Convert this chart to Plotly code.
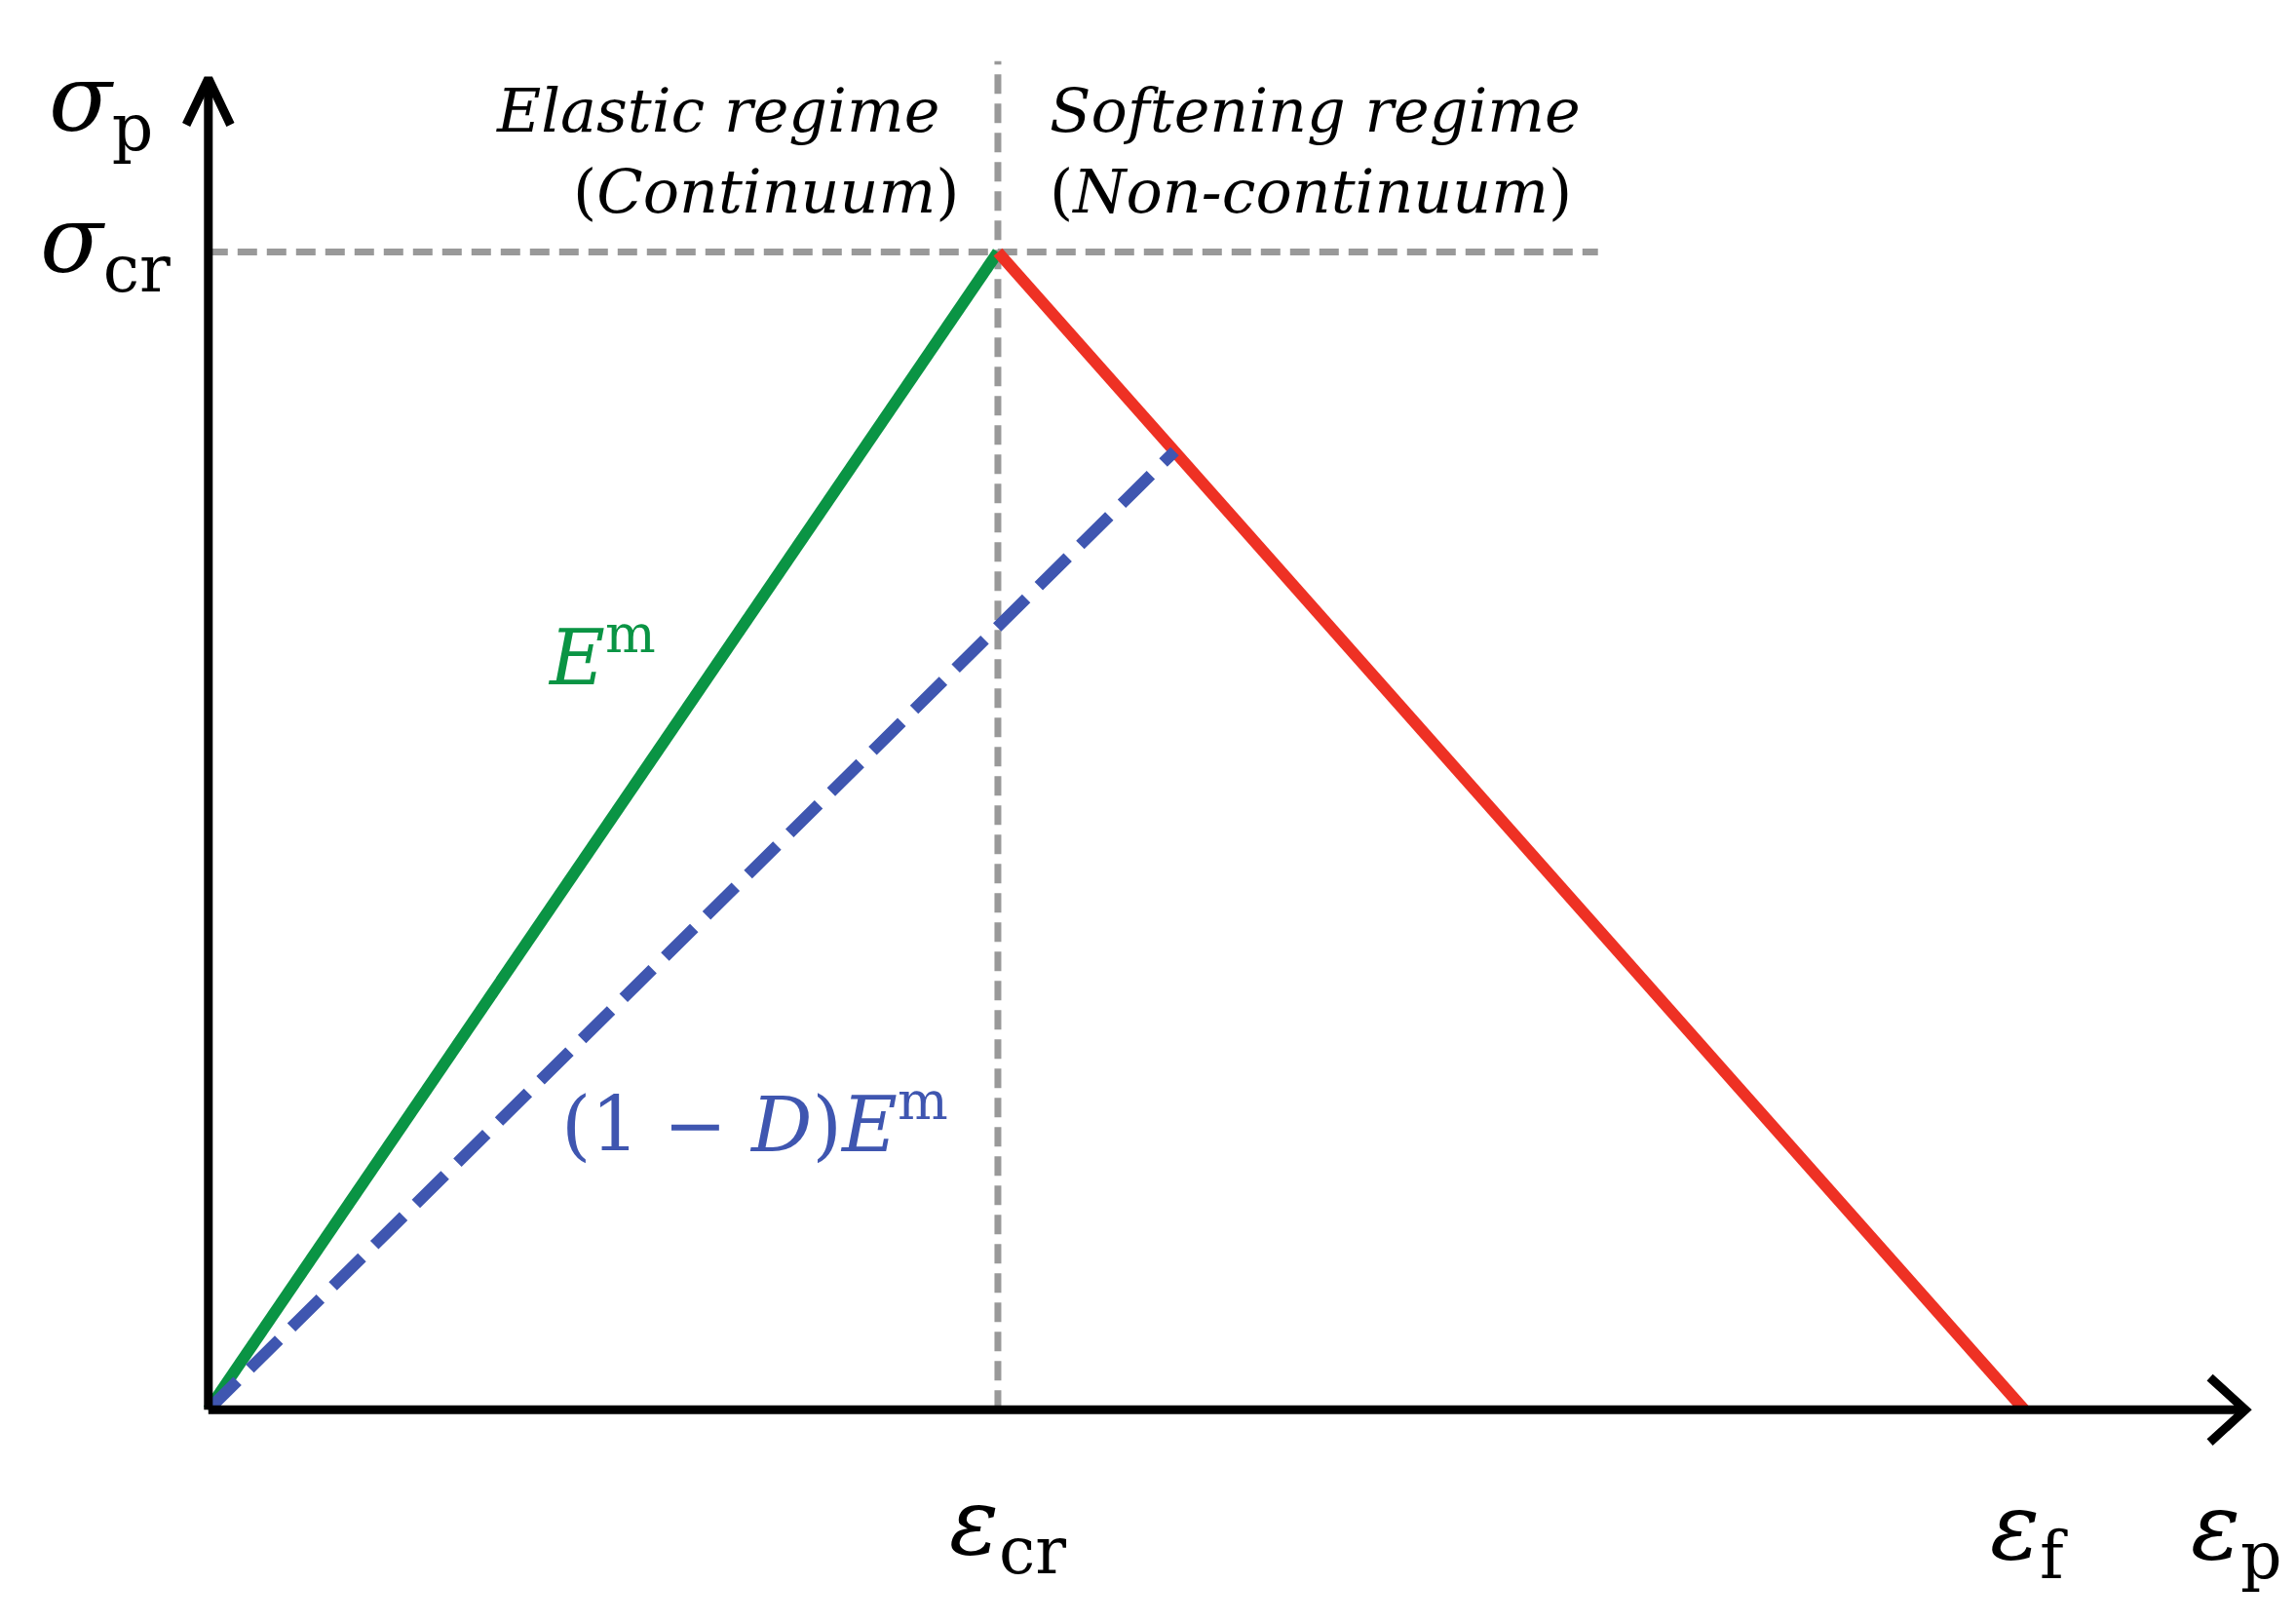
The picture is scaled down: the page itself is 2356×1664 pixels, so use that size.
import plotly.graph_objects as go

W, H = 2356, 1664
eps_cr, eps_f, sig_cr = 1.0, 2.30, 1.0
elastic_x = [0, eps_cr]; elastic_y = [0, sig_cr]
soft_x = [eps_cr, eps_f]; soft_y = [sig_cr, 0]
damaged_x = [0, 1.224]; damaged_y = [0, 0.828]

xr = [-0.254, 2.654]
yr = [-0.190, 1.211]

def px(x, y):  # pixel -> paper
    return x / W, 1 - y / H

fig = go.Figure()
gray = "#999999"
fig.add_trace(go.Scatter(x=[0, 1.76], y=[sig_cr, sig_cr], mode="lines", line=dict(color=gray, width=7, dash="20px,10px")))
fig.add_trace(go.Scatter(x=[eps_cr, eps_cr], y=[0, 1.165], mode="lines", line=dict(color=gray, width=7, dash="20px,10px")))
fig.add_trace(go.Scatter(x=elastic_x, y=elastic_y, mode="lines", line=dict(color="#0a9444", width=12)))
fig.add_trace(go.Scatter(x=soft_x, y=soft_y, mode="lines", line=dict(color="#ee3124", width=12)))
fig.add_trace(go.Scatter(x=damaged_x, y=damaged_y, mode="lines", line=dict(color="#3f56b0", width=12, dash="42px,18px")))

fig.add_trace(go.Scatter(x=[0, 0, None, 0, 2.58], y=[1.15, 0, None, 0, 0], mode="lines", line=dict(color="black", width=9)))
ax, ay = 2.58, 0
fig.add_trace(go.Scatter(x=[ax-0.045, ax, ax-0.045], y=[0.028, 0, -0.028], mode="lines", line=dict(color="black", width=9)))
fig.add_trace(go.Scatter(x=[-0.028, 0, 0.028], y=[1.15-0.04, 1.15, 1.15-0.04], mode="lines", line=dict(color="black", width=9)))

serif = "DejaVu Serif, Liberation Serif, serif"
def txt(x, y, s, size, color="black", anchor="center"):
    X, Y = px(x, y)
    fig.add_annotation(x=X, y=Y, xref="paper", yref="paper", text=s, showarrow=False,
                       font=dict(family=serif, size=size, color=color), xanchor=anchor, yanchor="middle")

txt(95, 100, "<i>σ</i><sub>p</sub>", 95)
txt(100, 245, "<i>σ</i><sub>cr</sub>", 95)
txt(1026, 1560, "<i>ε</i><sub>cr</sub>", 95)
txt(2074, 1565, "<i>ε</i><sub>f</sub>", 95)
txt(2287, 1565, "<i>ε</i><sub>p</sub>", 95)
txt(958, 105, "<i>Elastic regime</i>", 62, anchor="right")
txt(978, 188, "(<i>Continuum</i>)", 62, anchor="right")
txt(1067, 105, "<i>Softening regime</i>", 62, anchor="left")
txt(1067, 188, "(<i>Non-continuum</i>)", 62, anchor="left")
txt(609, 661, "<i>E</i><sup>m</sup>", 78, color="#0a9444")
txt(766, 1140, "(1 − <i>D</i>)<i>E</i><sup>m</sup>", 78, color="#3f56b0")

fig.update_layout(width=W, height=H, margin=dict(l=0, r=0, t=0, b=0), showlegend=False,
                  plot_bgcolor="white", paper_bgcolor="white",
                  xaxis=dict(range=xr, visible=False), yaxis=dict(range=yr, visible=False))
fig.write_html("out.html")
